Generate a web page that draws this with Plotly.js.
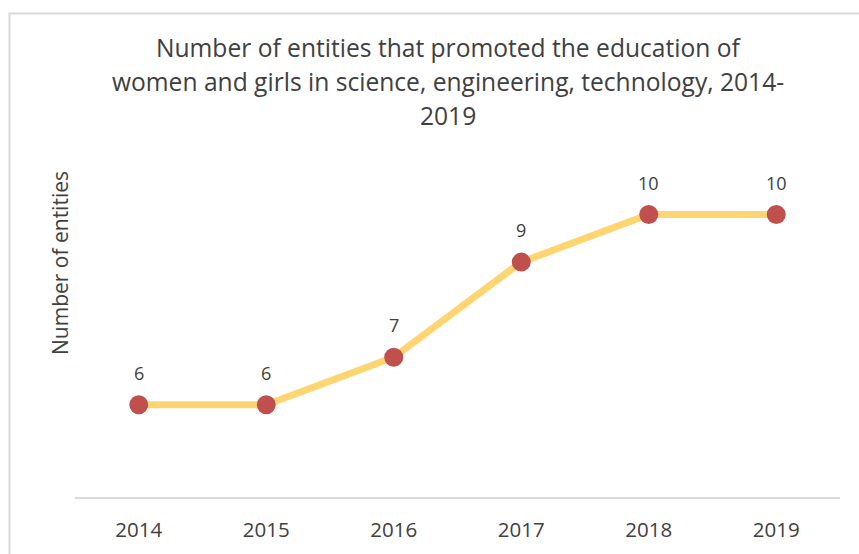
<!DOCTYPE html>
<html>
<head>
<meta charset="utf-8">
<script src="https://cdn.plot.ly/plotly-3.0.1.min.js"></script>
<style>html,body{margin:0;padding:0;background:#fff;}#chart{width:859px;height:554px;}</style>
</head>
<body>
<div id="chart"></div>
<script>
const years = ['2014', '2015', '2016', '2017', '2018', '2019'];
const entities = [6, 6, 7, 9, 10, 10];
const titleLines = ['Number of entities that promoted the education of',
                    'women and girls in science, engineering, technology, 2014-',
                    '2019'];
const yTitle = 'Number of entities';

const FONT = 'Open Sans, sans-serif';
const TXT = '#404040';

const trace = {
  x: years,
  y: entities,
  type: 'scatter',
  mode: 'lines+markers',
  line: {color: '#FFD571', width: 7},
  marker: {color: '#C0504D', size: 19},
  cliponaxis: false,
  hoverinfo: 'none'
};

const annotations = [];
// title lines
titleLines.forEach((t, i) => {
  annotations.push({
    text: t, xref: 'paper', yref: 'paper',
    x: (448 - 75) / 765, y: (497 - (47 + i * 34)) / 330,
    xanchor: 'center', yanchor: 'middle', showarrow: false,
    font: {family: FONT, size: 24.6, color: TXT}
  });
});
// data labels (category index on the x axis)
years.forEach((yr, i) => {
  annotations.push({
    text: String(entities[i]), x: i, y: entities[i], xref: 'x', yref: 'y',
    yshift: 32, xanchor: 'center', yanchor: 'middle', showarrow: false,
    font: {family: FONT, size: 18, color: TXT}
  });
});
// y axis title
annotations.push({
  text: yTitle, xref: 'paper', yref: 'paper',
  x: (60 - 75) / 765, y: (497 - 263) / 330,
  xanchor: 'center', yanchor: 'middle', textangle: -90, showarrow: false,
  font: {family: FONT, size: 21, color: TXT}
});

const layout = {
  width: 859, height: 554,
  margin: {l: 75, r: 19, t: 167, b: 57},
  paper_bgcolor: '#ffffff', plot_bgcolor: '#ffffff',
  showlegend: false,
  xaxis: {
    type: 'category',
    range: [-0.5, 5.5],
    showgrid: false, zeroline: false,
    showline: true, linecolor: '#D9D9D9', linewidth: 1.5,
    ticks: '',
    ticklabelstandoff: 14,
    tickfont: {family: FONT, size: 20.5, color: TXT},
    fixedrange: true
  },
  yaxis: {
    range: [4.06, 11],
    showgrid: false, zeroline: false, showline: false,
    showticklabels: false, ticks: '',
    fixedrange: true
  },
  annotations: annotations,
  shapes: [{
    type: 'rect', xref: 'paper', yref: 'paper',
    x0: (9.5 - 75) / 765, x1: 1.2, y0: -0.5, y1: (497 - 13.5) / 330,
    line: {color: '#D9D9D9', width: 2}, fillcolor: 'rgba(0,0,0,0)', layer: 'above'
  }]
};

Plotly.newPlot('chart', [trace], layout, {displayModeBar: false, staticPlot: true});
</script>
</body>
</html>
